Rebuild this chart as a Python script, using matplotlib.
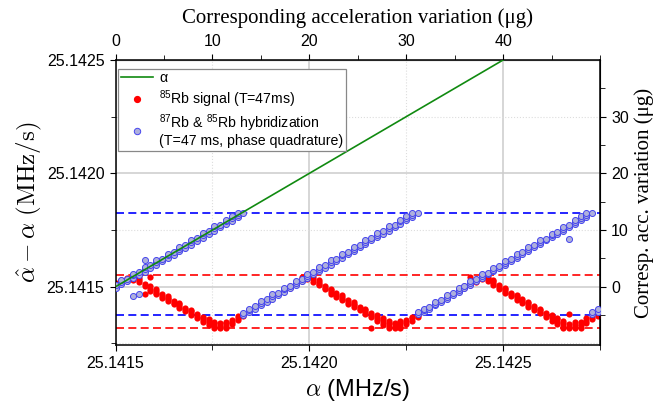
import matplotlib.pyplot as plt
import numpy as np
from matplotlib.lines import Line2D
from matplotlib.ticker import MultipleLocator, FormatStrFormatter, FixedLocator

plt.rcParams['font.family'] = ['Liberation Sans', 'DejaVu Sans']
plt.rcParams['mathtext.fontset'] = 'custom'
plt.rcParams['mathtext.rm'] = 'Liberation Sans'
plt.rcParams['mathtext.it'] = 'Liberation Sans:italic'
plt.rcParams['mathtext.bf'] = 'Liberation Sans:bold'

ALPHA0 = 25.1415   # MHz/s, origin of both axes
UG_PER_MHZ = 4e4   # 0.0005 MHz/s <-> 20 ug

# scanned chirp rate, offset from ALPHA0 in Hz/s (1e-6 MHz/s)
scan = [0, 15, 30, 45, 60, 75, 90, 105, 120, 135, 150, 165, 180, 195, 210,
        225, 240, 255, 270, 285, 300, 315, 330, 345, 360, 375, 390, 405, 420,
        435, 450, 465, 480, 495, 510, 525, 540, 555, 570, 585, 600, 615, 630,
        645, 660, 675, 690, 705, 720, 735, 750, 765, 780, 795, 810, 825, 840,
        855, 870, 885, 900, 915, 930, 945, 960, 975, 990, 1005, 1020, 1035,
        1050, 1065, 1080, 1095, 1110, 1125, 1140, 1155, 1170, 1185, 1200, 1215,
        1230, 1245]

# 87Rb & 85Rb hybridization, estimate offset in Hz/s, per scan step
hybrid = [
    [-4, 6], [10, 20, 28], [24, 36], [38, 50, 58, -41], [52, 64, -34],
    [66, 78, 88, 118], [82, 96], [96, 108, 118], [112, 124], [126, 138, 146],
    [142, 154], [156, 168, 176], [172, 184], [186, 198, 208], [202, 214],
    [216, 228, 236], [232, 244], [246, 258, 266], [262, 274], [276, 288, 296],
    [292, 304, 312], [306, 318, 324], [327, -124, -114],
    [-112, -102, -96], [-96, -86], [-82, -72, -64], [-66, -56],
    [-52, -42, -34], [-36, -26], [-22, -12, -4], [-6, 4], [8, 18, 26],
    [24, 34], [38, 48, 56], [54, 64], [68, 78, 86], [84, 94],
    [98, 108, 116], [114, 124], [128, 138, 146], [144, 154],
    [158, 168, 176], [174, 184], [188, 198, 206], [204, 214],
    [218, 228, 236], [234, 244], [248, 258, 266], [264, 274],
    [278, 288, 296], [294, 304, 312], [306, 318, 324], [327, -122, -112],
    [-112, -104, -96], [-96, -88], [-82, -74, -66], [-66, -58],
    [-52, -44, -36], [-36, -28], [-22, -14, -6], [-6, 2], [8, 16, 24],
    [24, 32], [38, 46, 54], [54, 62], [68, 76, 84], [84, 92],
    [98, 106, 114], [114, 122], [128, 136, 144], [144, 152],
    [158, 166, 174], [174, 182], [188, 196, 204], [204, 212],
    [218, 226, 234], [234, 242], [248, 256, 264], [264, 272, 209],
    [278, 286, 294], [294, 302, 310], [306, 316, 324], [326, -122, -112],
    [-110, -100],
]

# 85Rb signal alone, estimate offset in Hz/s (hidden steps left empty)
rb85 = [
    [8, 18], [18, 28], [24, 34, 40], [28, 38], [20, 30, 38],
    [4, 14, -32], [-18, -8, 2, 43], [-34, -26, -18, -12], [-48, -40, -32],
    [-64, -56, -48, -42], [-78, -70, -62], [-94, -86, -78, -72],
    [-108, -100, -92], [-124, -116, -108, -102], [-138, -130, -122],
    [-154, -146, -138, -132], [-170, -160, -150, -144], [-182, -172, -162, -154],
    [-184, -176, -168, -160], [-182, -172, -162, -156], [-164, -154, -146],
    [-146, -138, -130], [-128, -120],
    [], [], [], [], [], [],
    [-18, -10], [-4, 4], [10, 20], [24, 34, 44], [34, 44, 52], [22, 32, 42],
    [6, 14, 22, 28], [-12, -4, 4], [-30, -22, -14, -8], [-44, -36, -28],
    [-60, -52, -44, -38], [-74, -66, -58], [-90, -82, -74, -68],
    [-104, -96, -88], [-120, -112, -104, -98], [-134, -126, -118, -180],
    [-152, -142, -132, -126], [-168, -158, -148, -140],
    [-182, -172, -162, -152], [-184, -176, -166, -158],
    [-184, -172, -160, -152], [-166, -156, -146], [-150, -140, -132],
    [-132, -124],
    [], [], [], [], [], [],
    [-20, -12], [-6, 2], [8, 18, 44], [22, 32], [34, 44, 52], [24, 34, 42],
    [8, 16, 24, 30], [-8, 0, 8], [-26, -18, -10, -4], [-42, -34, -26],
    [-58, -50, -42, -36], [-72, -64, -56], [-88, -80, -72, -66],
    [-102, -94, -86], [-118, -110, -102, -96], [-132, -124, -116],
    [-150, -140, -130, -124], [-164, -154, -144, -136],
    [-182, -172, -160, -150], [-184, -176, -164, -122],
    [-184, -174, -164, -156], [-180, -168, -156], [-160, -150, -140],
    [-144, -134], [-130, -120],
]

# bounds of each signal, offset in Hz/s
hybrid_bounds = [326.6, -125.0]
rb85_bounds = [53.0, -183.6]


def to_points(cols):
    xs, ys = [], []
    for x, vals in zip(scan, cols):
        for v in vals:
            xs.append(x)
            ys.append(v)
    return ALPHA0 + np.array(xs) * 1e-6, ALPHA0 + np.array(ys) * 1e-6


fig = plt.figure(figsize=(6.7, 4.03), dpi=100)
ax = fig.add_axes([0.1724, 0.1439, 0.7231, 0.7072])

ax.set_xlim(25.1415, 25.14275)
ax.set_ylim(25.141243, 25.1425)

ax.xaxis.set_major_locator(FixedLocator([25.1415, 25.1420, 25.1425]))
ax.xaxis.set_minor_locator(MultipleLocator(0.00025))
ax.yaxis.set_major_locator(FixedLocator([25.1415, 25.1420, 25.1425]))
ax.yaxis.set_minor_locator(MultipleLocator(0.00025))
ax.xaxis.set_major_formatter(FormatStrFormatter('%.4f'))
ax.yaxis.set_major_formatter(FormatStrFormatter('%.4f'))
ax.grid(which='major', color='#cccccc', lw=1.1, zorder=0)
ax.grid(which='minor', color='#dddddd', lw=0.8, ls=':', zorder=0)
ax.set_axisbelow(True)

for b in hybrid_bounds:
    ax.axhline(ALPHA0 + b * 1e-6, color='#0000ff', lw=1.2, dashes=(4.8, 2.6), zorder=1)
for b in rb85_bounds:
    ax.axhline(ALPHA0 + b * 1e-6, color='#ff0000', lw=1.2, dashes=(4.8, 2.6), zorder=1)

rx, ry = to_points(rb85)
ax.scatter(rx, ry, s=20, color='#ff0000', linewidths=0, zorder=2)
hx, hy = to_points(hybrid)
ax.scatter(hx, hy, s=19, facecolor='#aeb0dc', edgecolor='#4646ee',
           linewidths=0.7, zorder=3)

line_a = [25.1415, 25.14275]
ax.plot(line_a, line_a, color='#108a10', lw=1.2, zorder=4)

ax.tick_params(which='both', direction='out', labelsize=11.5)
ax.tick_params(which='major', length=4.5)
ax.tick_params(which='minor', length=3.5)
for s in ax.spines.values():
    s.set_linewidth(1.1)

ax.set_xlabel(r'$\alpha$ (MHz/s)', fontsize=17, math_fontfamily='cm', labelpad=4)
ax.set_ylabel(r'$\hat{\alpha} - \alpha\ (\mathrm{MHz/s})$', fontsize=18,
              math_fontfamily='cm', labelpad=2)

fwd = lambda v: (v - ALPHA0) * UG_PER_MHZ
inv = lambda u: ALPHA0 + u / UG_PER_MHZ

top = ax.secondary_xaxis('top', functions=(fwd, inv))
top.xaxis.set_major_locator(FixedLocator([0, 10, 20, 30, 40]))
top.xaxis.set_minor_locator(MultipleLocator(5))
top.tick_params(which='both', direction='out', labelsize=11.5)
top.tick_params(which='major', length=4.5)
top.tick_params(which='minor', length=3.5)
top.set_xlabel('Corresponding acceleration variation (\u03bcg)',
               family='Liberation Serif', fontsize=15, labelpad=8)

right = ax.secondary_yaxis('right', functions=(fwd, inv))
right.yaxis.set_major_locator(FixedLocator([0, 10, 20, 30]))
right.yaxis.set_minor_locator(FixedLocator([-5, 5, 15, 25, 35]))
right.tick_params(which='both', direction='out', labelsize=11.5)
right.tick_params(which='major', length=4.5)
right.tick_params(which='minor', length=3.5)
right.set_ylabel('Corresp. acc. variation (\u03bcg)', family='Liberation Serif',
                 fontsize=15, labelpad=4)

handles = [
    Line2D([], [], color='#108a10', lw=1.2),
    Line2D([], [], ls='none', marker='o', ms=4.2, mfc='#ff0000', mec='#ff0000'),
    Line2D([], [], ls='none', marker='o', ms=4.6, mfc='#aeb0dc', mec='#4646ee', mew=0.7),
]
labels = [
    '\u03b1',
    r'$^{85}$Rb signal (T=47ms)',
    r'$^{87}$Rb & $^{85}$Rb hybridization' + '\n(T=47 ms, phase quadrature)',
]
leg = ax.legend(handles, labels, loc='upper left', bbox_to_anchor=(0.005, 0.97),
                borderaxespad=0, fontsize=10.2, fancybox=False, framealpha=1,
                edgecolor='#888888', handlelength=2.3, handletextpad=0.4,
                labelspacing=0.2, borderpad=0.2)
leg.get_frame().set_linewidth(0.9)
for t in leg.get_texts():
    t.set_linespacing(1.0)

fig.savefig('out.png', dpi=100)
